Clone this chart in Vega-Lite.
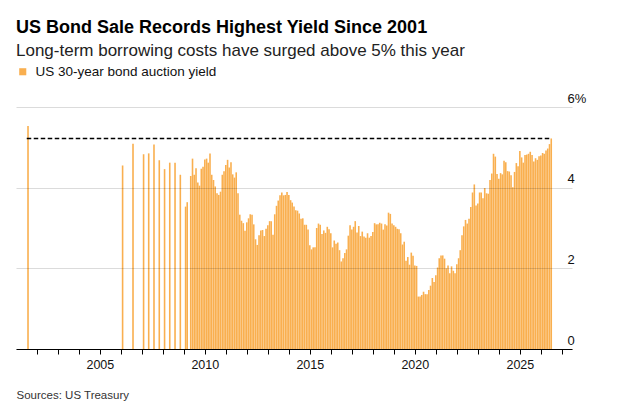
{
  "$schema": "https://vega.github.io/schema/vega-lite/v6.json",
  "width": 556,
  "height": 242,
  "autosize": {"type": "none"},
  "padding": {"left": 16, "top": 107, "right": 52, "bottom": 64},
  "background": "white",
  "config": {"view": {"stroke": null}, "font": "Liberation Sans"},
  "title": {
    "text": "US Bond Sale Records Highest Yield Since 2001",
    "subtitle": "Long-term borrowing costs have surged above 5% this year",
    "anchor": "start",
    "frame": "group",
    "font": "Liberation Sans",
    "fontSize": 18,
    "fontWeight": "bold",
    "color": "#000000",
    "subtitleFont": "Liberation Sans",
    "subtitleFontSize": 17,
    "subtitleColor": "#222222",
    "subtitlePadding": 6,
    "offset": 6
  },
  "datasets": {
    "yields": [
      {"date": "2001-08-01", "yield": 5.53},
      {"date": "2006-02-01", "yield": 4.55},
      {"date": "2006-08-01", "yield": 5.09},
      {"date": "2007-02-01", "yield": 4.83},
      {"date": "2007-05-01", "yield": 4.85},
      {"date": "2007-08-01", "yield": 5.07},
      {"date": "2007-11-01", "yield": 4.68},
      {"date": "2008-02-01", "yield": 4.46},
      {"date": "2008-05-01", "yield": 4.62},
      {"date": "2008-08-01", "yield": 4.62},
      {"date": "2008-11-01", "yield": 4.32},
      {"date": "2009-02-01", "yield": 3.53},
      {"date": "2009-03-01", "yield": 3.64},
      {"date": "2009-05-01", "yield": 4.29},
      {"date": "2009-06-01", "yield": 4.72},
      {"date": "2009-07-01", "yield": 4.32},
      {"date": "2009-08-01", "yield": 4.48},
      {"date": "2009-09-01", "yield": 4.13},
      {"date": "2009-10-01", "yield": 4.05},
      {"date": "2009-11-01", "yield": 4.47},
      {"date": "2009-12-01", "yield": 4.52},
      {"date": "2010-01-01", "yield": 4.70},
      {"date": "2010-02-01", "yield": 4.72},
      {"date": "2010-03-01", "yield": 4.62},
      {"date": "2010-04-01", "yield": 4.85},
      {"date": "2010-05-01", "yield": 4.32},
      {"date": "2010-06-01", "yield": 4.19},
      {"date": "2010-07-01", "yield": 4.03},
      {"date": "2010-08-01", "yield": 3.86},
      {"date": "2010-09-01", "yield": 3.82},
      {"date": "2010-10-01", "yield": 3.90},
      {"date": "2010-11-01", "yield": 4.32},
      {"date": "2010-12-01", "yield": 4.41},
      {"date": "2011-01-01", "yield": 4.56},
      {"date": "2011-02-01", "yield": 4.69},
      {"date": "2011-03-01", "yield": 4.50},
      {"date": "2011-04-01", "yield": 4.63},
      {"date": "2011-05-01", "yield": 4.33},
      {"date": "2011-06-01", "yield": 4.25},
      {"date": "2011-07-01", "yield": 4.38},
      {"date": "2011-08-01", "yield": 3.86},
      {"date": "2011-09-01", "yield": 3.33},
      {"date": "2011-10-01", "yield": 3.18},
      {"date": "2011-11-01", "yield": 3.12},
      {"date": "2011-12-01", "yield": 2.93},
      {"date": "2012-01-01", "yield": 3.14},
      {"date": "2012-02-01", "yield": 3.24},
      {"date": "2012-03-01", "yield": 3.34},
      {"date": "2012-04-01", "yield": 3.33},
      {"date": "2012-05-01", "yield": 3.09},
      {"date": "2012-06-01", "yield": 2.72},
      {"date": "2012-07-01", "yield": 2.58},
      {"date": "2012-08-01", "yield": 2.82},
      {"date": "2012-09-01", "yield": 2.94},
      {"date": "2012-10-01", "yield": 2.95},
      {"date": "2012-11-01", "yield": 2.80},
      {"date": "2012-12-01", "yield": 2.98},
      {"date": "2013-01-01", "yield": 3.07},
      {"date": "2013-02-01", "yield": 3.17},
      {"date": "2013-03-01", "yield": 3.17},
      {"date": "2013-04-01", "yield": 2.83},
      {"date": "2013-05-01", "yield": 3.34},
      {"date": "2013-06-01", "yield": 3.55},
      {"date": "2013-07-01", "yield": 3.68},
      {"date": "2013-08-01", "yield": 3.81},
      {"date": "2013-09-01", "yield": 3.88},
      {"date": "2013-10-01", "yield": 3.81},
      {"date": "2013-11-01", "yield": 3.82},
      {"date": "2013-12-01", "yield": 3.89},
      {"date": "2014-01-01", "yield": 3.82},
      {"date": "2014-02-01", "yield": 3.69},
      {"date": "2014-03-01", "yield": 3.63},
      {"date": "2014-04-01", "yield": 3.53},
      {"date": "2014-05-01", "yield": 3.44},
      {"date": "2014-06-01", "yield": 3.43},
      {"date": "2014-07-01", "yield": 3.36},
      {"date": "2014-08-01", "yield": 3.23},
      {"date": "2014-09-01", "yield": 3.24},
      {"date": "2014-10-01", "yield": 3.08},
      {"date": "2014-11-01", "yield": 3.08},
      {"date": "2014-12-01", "yield": 2.96},
      {"date": "2015-01-01", "yield": 2.57},
      {"date": "2015-02-01", "yield": 2.47},
      {"date": "2015-03-01", "yield": 2.52},
      {"date": "2015-04-01", "yield": 2.52},
      {"date": "2015-05-01", "yield": 3.00},
      {"date": "2015-06-01", "yield": 3.11},
      {"date": "2015-07-01", "yield": 3.08},
      {"date": "2015-08-01", "yield": 2.85},
      {"date": "2015-09-01", "yield": 2.94},
      {"date": "2015-10-01", "yield": 2.88},
      {"date": "2015-11-01", "yield": 3.03},
      {"date": "2015-12-01", "yield": 2.97},
      {"date": "2016-01-01", "yield": 2.87},
      {"date": "2016-02-01", "yield": 2.52},
      {"date": "2016-03-01", "yield": 2.69},
      {"date": "2016-04-01", "yield": 2.61},
      {"date": "2016-05-01", "yield": 2.64},
      {"date": "2016-06-01", "yield": 2.45},
      {"date": "2016-07-01", "yield": 2.17},
      {"date": "2016-08-01", "yield": 2.25},
      {"date": "2016-09-01", "yield": 2.38},
      {"date": "2016-10-01", "yield": 2.47},
      {"date": "2016-11-01", "yield": 2.81},
      {"date": "2016-12-01", "yield": 3.07},
      {"date": "2017-01-01", "yield": 2.96},
      {"date": "2017-02-01", "yield": 3.03},
      {"date": "2017-03-01", "yield": 3.17},
      {"date": "2017-04-01", "yield": 2.89},
      {"date": "2017-05-01", "yield": 3.05},
      {"date": "2017-06-01", "yield": 2.80},
      {"date": "2017-07-01", "yield": 2.91},
      {"date": "2017-08-01", "yield": 2.79},
      {"date": "2017-09-01", "yield": 2.76},
      {"date": "2017-10-01", "yield": 2.87},
      {"date": "2017-11-01", "yield": 2.76},
      {"date": "2017-12-01", "yield": 2.80},
      {"date": "2018-01-01", "yield": 2.90},
      {"date": "2018-02-01", "yield": 3.12},
      {"date": "2018-03-01", "yield": 3.09},
      {"date": "2018-04-01", "yield": 3.09},
      {"date": "2018-05-01", "yield": 3.13},
      {"date": "2018-06-01", "yield": 3.11},
      {"date": "2018-07-01", "yield": 2.96},
      {"date": "2018-08-01", "yield": 3.09},
      {"date": "2018-09-01", "yield": 3.06},
      {"date": "2018-10-01", "yield": 3.38},
      {"date": "2018-11-01", "yield": 3.35},
      {"date": "2018-12-01", "yield": 3.11},
      {"date": "2019-01-01", "yield": 3.07},
      {"date": "2019-02-01", "yield": 3.03},
      {"date": "2019-03-01", "yield": 2.98},
      {"date": "2019-04-01", "yield": 2.97},
      {"date": "2019-05-01", "yield": 2.87},
      {"date": "2019-06-01", "yield": 2.59},
      {"date": "2019-07-01", "yield": 2.66},
      {"date": "2019-08-01", "yield": 2.19},
      {"date": "2019-09-01", "yield": 2.28},
      {"date": "2019-10-01", "yield": 2.09},
      {"date": "2019-11-01", "yield": 2.39},
      {"date": "2019-12-01", "yield": 2.31},
      {"date": "2020-01-01", "yield": 2.07},
      {"date": "2020-02-01", "yield": 2.06},
      {"date": "2020-03-01", "yield": 1.30},
      {"date": "2020-04-01", "yield": 1.30},
      {"date": "2020-05-01", "yield": 1.34},
      {"date": "2020-06-01", "yield": 1.42},
      {"date": "2020-07-01", "yield": 1.36},
      {"date": "2020-08-01", "yield": 1.36},
      {"date": "2020-09-01", "yield": 1.46},
      {"date": "2020-10-01", "yield": 1.57},
      {"date": "2020-11-01", "yield": 1.76},
      {"date": "2020-12-01", "yield": 1.66},
      {"date": "2021-01-01", "yield": 1.83},
      {"date": "2021-02-01", "yield": 2.02},
      {"date": "2021-03-01", "yield": 2.25},
      {"date": "2021-04-01", "yield": 2.32},
      {"date": "2021-05-01", "yield": 2.32},
      {"date": "2021-06-01", "yield": 2.24},
      {"date": "2021-07-01", "yield": 2.00},
      {"date": "2021-08-01", "yield": 2.07},
      {"date": "2021-09-01", "yield": 1.88},
      {"date": "2021-10-01", "yield": 2.05},
      {"date": "2021-11-01", "yield": 1.94},
      {"date": "2021-12-01", "yield": 1.88},
      {"date": "2022-01-01", "yield": 2.10},
      {"date": "2022-02-01", "yield": 2.25},
      {"date": "2022-03-01", "yield": 2.45},
      {"date": "2022-04-01", "yield": 2.82},
      {"date": "2022-05-01", "yield": 3.04},
      {"date": "2022-06-01", "yield": 3.20},
      {"date": "2022-07-01", "yield": 3.11},
      {"date": "2022-08-01", "yield": 3.23},
      {"date": "2022-09-01", "yield": 3.52},
      {"date": "2022-10-01", "yield": 3.88},
      {"date": "2022-11-01", "yield": 4.08},
      {"date": "2022-12-01", "yield": 3.56},
      {"date": "2023-01-01", "yield": 3.61},
      {"date": "2023-02-01", "yield": 3.88},
      {"date": "2023-03-01", "yield": 3.88},
      {"date": "2023-04-01", "yield": 3.74},
      {"date": "2023-05-01", "yield": 3.99},
      {"date": "2023-06-01", "yield": 3.86},
      {"date": "2023-07-01", "yield": 3.85},
      {"date": "2023-08-01", "yield": 4.19},
      {"date": "2023-09-01", "yield": 4.35},
      {"date": "2023-10-01", "yield": 4.84},
      {"date": "2023-11-01", "yield": 4.77},
      {"date": "2023-12-01", "yield": 4.34},
      {"date": "2024-01-01", "yield": 4.22},
      {"date": "2024-02-01", "yield": 4.36},
      {"date": "2024-03-01", "yield": 4.33},
      {"date": "2024-04-01", "yield": 4.67},
      {"date": "2024-05-01", "yield": 4.63},
      {"date": "2024-06-01", "yield": 4.41},
      {"date": "2024-07-01", "yield": 4.40},
      {"date": "2024-08-01", "yield": 4.31},
      {"date": "2024-09-01", "yield": 4.01},
      {"date": "2024-10-01", "yield": 4.39},
      {"date": "2024-11-01", "yield": 4.61},
      {"date": "2024-12-01", "yield": 4.53},
      {"date": "2025-01-01", "yield": 4.91},
      {"date": "2025-02-01", "yield": 4.75},
      {"date": "2025-03-01", "yield": 4.62},
      {"date": "2025-04-01", "yield": 4.81},
      {"date": "2025-05-01", "yield": 4.82},
      {"date": "2025-06-01", "yield": 4.84},
      {"date": "2025-07-01", "yield": 4.89},
      {"date": "2025-08-01", "yield": 4.81},
      {"date": "2025-09-01", "yield": 4.65},
      {"date": "2025-10-01", "yield": 4.73},
      {"date": "2025-11-01", "yield": 4.69},
      {"date": "2025-12-01", "yield": 4.78},
      {"date": "2026-01-01", "yield": 4.80},
      {"date": "2026-02-01", "yield": 4.86},
      {"date": "2026-03-01", "yield": 4.84},
      {"date": "2026-04-01", "yield": 4.92},
      {"date": "2026-05-01", "yield": 4.97},
      {"date": "2026-06-01", "yield": 5.08},
      {"date": "2026-07-01", "yield": 5.22}
    ],
    "record": [
      {"start": "2001-07-10", "end": "2026-07-01", "level": 5.22}
    ]
  },
  "layer": [
    {
      "data": {"name": "yields"},
      "mark": {"type": "bar", "width": 1.6},
      "encoding": {
        "x": {
          "field": "date",
          "type": "temporal",
          "scale": {"domain": ["2001-04-01", "2027-04-01"]},
          "axis": {
            "orient": "bottom",
            "domain": true,
            "domainColor": "#000000",
            "domainWidth": 1,
            "ticks": true,
            "tickColor": "#000000",
            "tickSize": 5,
            "grid": false,
            "tickCount": {"interval": "year", "step": 1},
            "labelExpr": "year(datum.value) % 5 == 0 ? timeFormat(datum.value, '%Y') : ''",
            "labelFont": "Liberation Sans",
            "labelFontSize": 12.5,
            "labelColor": "#111111",
            "labelPadding": 4,
            "labelFlush": false,
            "labelOverlap": false,
            "title": "Sources: US Treasury",
            "titleAnchor": "start",
            "titleFont": "Liberation Sans",
            "titleFontSize": 11.5,
            "titleFontWeight": "normal",
            "titleColor": "#333333",
            "titlePadding": 19
          }
        },
        "y": {
          "field": "yield",
          "type": "quantitative",
          "scale": {"domain": [0, 6], "nice": false},
          "axis": {
            "orient": "right",
            "values": [0, 2, 4, 6],
            "domain": false,
            "ticks": false,
            "tickSize": 0,
            "grid": true,
            "gridColor": "#000000",
            "gridOpacity": 0.14,
            "gridWidth": 1,
            "zindex": 1,
            "labelAlign": "left",
            "labelBaseline": "alphabetic",
            "labelPadding": -5,
            "labelOffset": -5,
            "labelFont": "Liberation Sans",
            "labelFontSize": 13,
            "labelColor": "#111111",
            "labelFlush": false,
            "labelOverlap": false,
            "labelExpr": "datum.value == 6 ? '6%' : datum.label",
            "title": null
          }
        },
        "color": {
          "datum": "US 30-year bond auction yield",
          "type": "nominal",
          "scale": {"range": ["#F9AF4F"]},
          "legend": {
            "orient": "none",
            "legendX": 0,
            "legendY": -42,
            "title": null,
            "symbolType": "square",
            "symbolSize": 50,
            "symbolStrokeWidth": 0,
            "symbolOpacity": 1,
            "labelFont": "Liberation Sans",
            "labelFontSize": 13.5,
            "labelColor": "#111111",
            "labelOffset": 6,
            "labelLimit": 400
          }
        }
      }
    },
    {
      "data": {"name": "record"},
      "mark": {"type": "rule", "strokeDash": [4.5, 2.5], "strokeWidth": 1.6, "color": "#000000"},
      "encoding": {
        "x": {"field": "start", "type": "temporal"},
        "x2": {"field": "end"},
        "y": {"field": "level", "type": "quantitative"}
      }
    }
  ]
}
